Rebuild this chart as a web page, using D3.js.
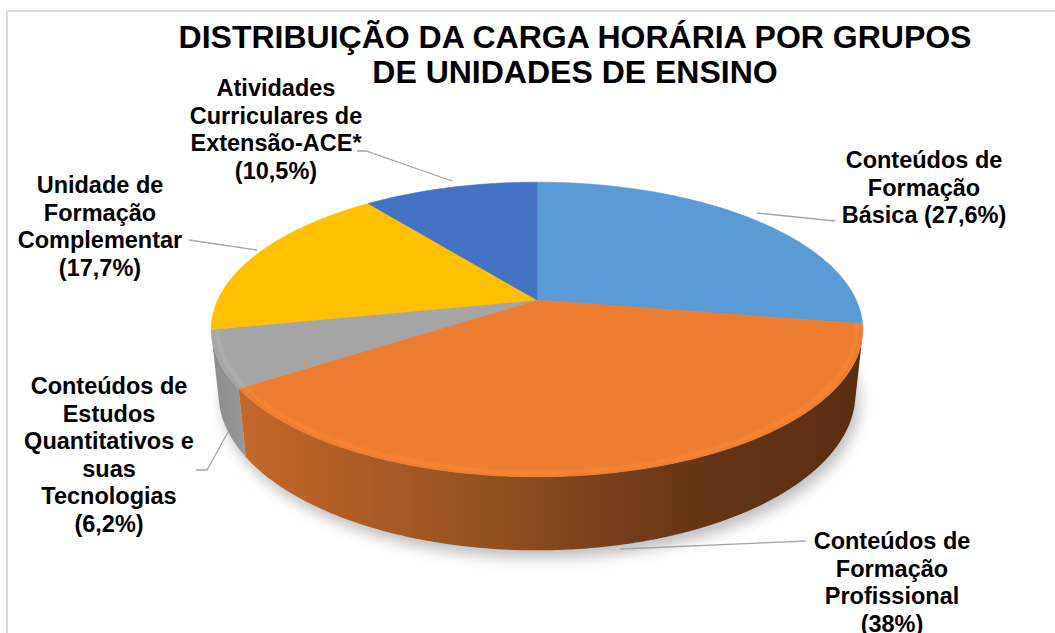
<!DOCTYPE html>
<html>
<head>
<meta charset="utf-8">
<script src="https://cdn.jsdelivr.net/npm/d3@7"></script>
<style>
  body { margin: 0; background: #fff; }
  text { font-family: "Liberation Sans", Arial, sans-serif; font-weight: bold; fill: #000; }
</style>
</head>
<body>
<div id="chart"></div>
<script>
/* 3D pie: carga horária por grupos */

const categories = ["Conteúdos de Formação Básica", "Conteúdos de Formação Profissional",
                    "Conteúdos de Estudos Quantitativos e suas Tecnologias",
                    "Unidade de Formação Complementar", "Atividades Curriculares de Extensão-ACE*"];
const values = [27.6, 38, 6.2, 17.7, 10.5];
const colors = ["#5b9bd5", "#ed7d31", "#a5a5a5", "#ffc000", "#4472c4"];
const labelLines = [
    ["Conteúdos de", "Formação", "Básica (27,6%)"],
    ["Conteúdos de", "Formação", "Profissional", "(38%)"],
    ["Conteúdos de", "Estudos", "Quantitativos e", "suas", "Tecnologias", "(6,2%)"],
    ["Unidade de", "Formação", "Complementar", "(17,7%)"],
    ["Atividades", "Curriculares de", "Extensão-ACE*", "(10,5%)"]
];
const titleLines = ["DISTRIBUIÇÃO DA CARGA HORÁRIA POR GRUPOS", "DE UNIDADES DE ENSINO"];

const width = 1055, height = 633;

let svg = d3.select("#chart")
            .append("svg")
            .attr("width", width)
            .attr("height", height);

/* chart frame */
svg.append("rect")
   .attr("x", 7).attr("y", 11)
   .attr("width", width).attr("height", height)
   .attr("fill", "none").attr("stroke", "#d9d9d9").attr("stroke-width", 2);

/* camera for the perspective */
const cx = 537, cy = 300,
      tilt = 26.3 * Math.PI / 180,
      sa = Math.sin(tilt), ca = Math.cos(tilt),
      D = 4.48, F = 1430, h = 0.225;

function proj(theta, y, r = 1) {
    const X = r * Math.sin(theta), Z = -r * Math.cos(theta);
    const depth = D - y * sa - Z * ca;
    return [cx + F * X / depth, cy - F * (y * ca - Z * sa) / depth];
}

function rim(a0, a1, y, r = 1) {
    const n = Math.max(2, Math.ceil(Math.abs(a1 - a0) / 0.01));
    return d3.range(n + 1).map(i => proj(a0 + (a1 - a0) * i / n, y, r));
}

const arcs = d3.pie().sort(null).value(d => d)(values);

const defs = svg.append("defs");
defs.append("filter").attr("id", "shadow")
    .attr("x", "-20%").attr("y", "-20%").attr("width", "140%").attr("height", "140%")
    .append("feGaussianBlur").attr("stdDeviation", 7);
defs.append("filter").attr("id", "soft")
    .append("feGaussianBlur").attr("stdDeviation", 1.5);

const wallGrad = {
    1: [["0%", "#c4672b"], ["40%", "#93501f"], ["70%", "#6a3718"], ["100%", "#5a2d12"]],
    2: [["0%", "#8c8c8c"], ["100%", "#9a9a9a"]]
};
Object.entries(wallGrad).forEach(([i, stops]) => {
    const g = defs.append("linearGradient").attr("id", "wall" + i)
        .attr("gradientUnits", "userSpaceOnUse")
        .attr("x1", i == 1 ? 245 : 210).attr("x2", i == 1 ? 860 : 250)
        .attr("y1", 0).attr("y2", 0);
    stops.forEach(s => g.append("stop").attr("offset", s[0]).attr("stop-color", s[1]));
});

const line = d3.line();

/* shadow under the pie */
svg.append("path")
   .attr("d", line(rim(0, 2 * Math.PI, -h).map(p => [p[0] + 4, p[1] + 8])) + "Z")
   .attr("fill", "rgba(0,0,0,0.25)")
   .attr("filter", "url(#shadow)");

/* visible part of the side wall */
const v0 = Math.acos(-1 / (D * ca)), v1 = 2 * Math.PI - v0;

arcs.forEach((a, i) => {
    const s0 = Math.max(a.startAngle, v0), s1 = Math.min(a.endAngle, v1);
    if (s1 <= s0) return;
    const pts = rim(s0, s1, 0).concat(rim(s1, s0, -h));
    svg.append("path")
       .attr("d", line(pts) + "Z")
       .attr("fill", wallGrad[i] ? `url(#wall${i})` : d3.color(colors[i]).darker(0.8));
});

/* top faces */
arcs.forEach((a, i) => {
    const pts = [proj(0, 0, 0)].concat(rim(a.startAngle, a.endAngle, 0));
    svg.append("path")
       .attr("d", line(pts) + "Z")
       .attr("fill", colors[i])
       .attr("stroke", colors[i]).attr("stroke-width", 0.6);
});

/* bevel highlight on the front rim */
arcs.forEach((a, i) => {
    const s0 = Math.max(a.startAngle, v0 - 0.1), s1 = Math.min(a.endAngle, v1 + 0.1);
    if (s1 <= s0) return;
    svg.append("path")
       .attr("d", line(rim(s0, s1, 0, 0.982)))
       .attr("fill", "none")
       .attr("stroke", d3.color(colors[i]).brighter(0.3))
       .attr("stroke-opacity", 0.7)
       .attr("stroke-width", 3)
       .attr("filter", "url(#soft)");
});

/* title */
svg.append("g").selectAll("text")
   .data(titleLines).join("text")
   .attr("x", 575)
   .attr("y", (d, i) => 48 + i * 35)
   .attr("text-anchor", "middle")
   .style("font-size", "32px")
   .text(d => d);

/* labels and leader lines */
const labelPos = [[924, 168], [892, 549], [109, 394], [100, 193], [276, 96]];
const leaders = [
    [[757, 213], [835, 221]],
    [[620, 549], [806, 541]],
    [[228, 432], [207, 470], [196, 470]],
    [[257, 250], [189, 240]],
    [[452, 181], [366, 151], [357, 151]]
];

svg.append("g").selectAll("path")
   .data(leaders).join("path")
   .attr("d", d => line(d))
   .attr("fill", "none")
   .attr("stroke", "#a6a6a6")
   .attr("stroke-width", 1.3);

labelLines.forEach((lines, i) => {
    svg.append("text")
       .attr("text-anchor", "middle")
       .style("font-size", "23.5px")
       .selectAll("tspan")
       .data(lines).join("tspan")
       .attr("x", labelPos[i][0])
       .attr("y", (d, j) => labelPos[i][1] + j * 27.6)
       .text(d => d);
});
</script>
</body>
</html>
